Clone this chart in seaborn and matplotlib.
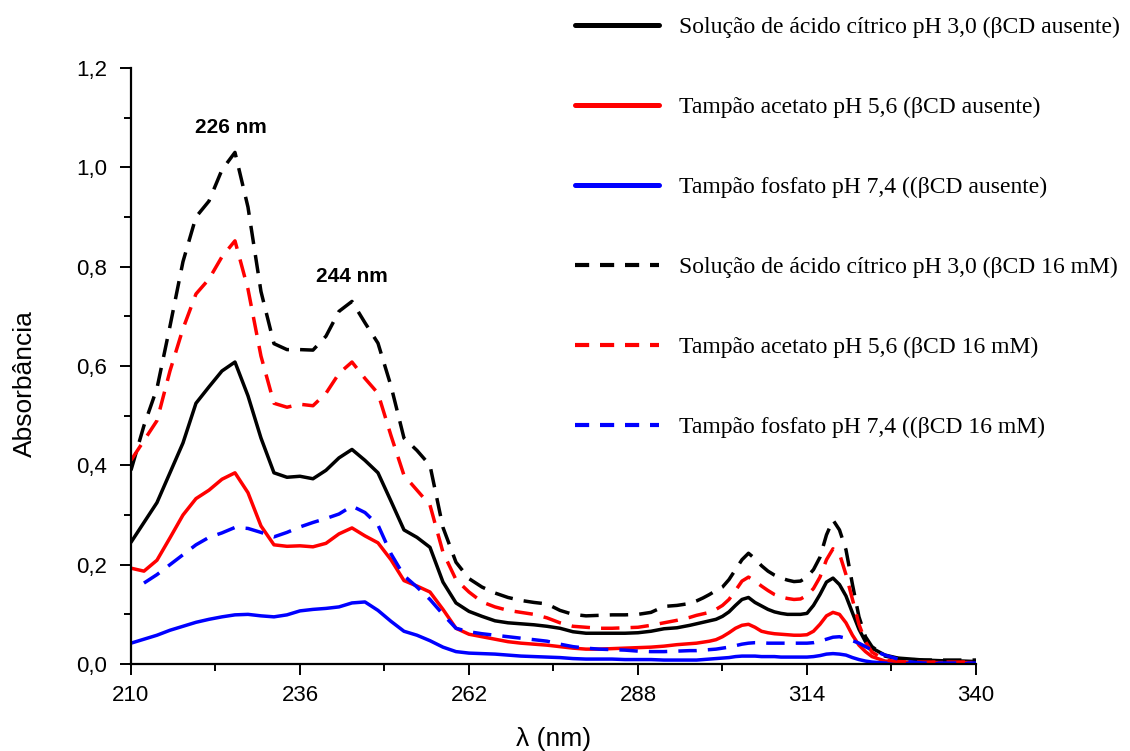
import numpy as np
import pandas as pd
import seaborn as sns
import matplotlib
matplotlib.use("Agg")
import matplotlib.pyplot as plt
from matplotlib.lines import Line2D
from matplotlib.ticker import FixedLocator, MultipleLocator, FuncFormatter

# Wavelength grid (nm): 2 nm steps, 1 nm steps across the 297-323 nm band
wavelength = [210, 212, 214, 216, 218, 220, 222, 224, 226, 228,
              230, 232, 234, 236, 238, 240, 242, 244, 246, 248,
              250, 252, 254, 256, 258, 260, 262, 264, 266, 268,
              270, 272, 274, 276, 278, 280, 282, 284, 286, 288,
              290, 292, 294, 296,
              297, 298, 299, 300, 301, 302, 303, 304, 305, 306,
              307, 308, 309, 310, 311, 312, 313, 314, 315, 316,
              317, 318, 319, 320, 321, 322, 323,
              324, 326, 328, 330, 332, 334, 336, 338, 340]

# Absorbance, no beta-cyclodextrin
citric_free = [0.245, 0.285, 0.325, 0.385, 0.445, 0.525, 0.558, 0.590, 0.608, 0.540,
               0.455, 0.385, 0.376, 0.378, 0.373, 0.390, 0.415, 0.432, 0.410, 0.385,
               0.328, 0.270, 0.255, 0.235, 0.165, 0.123, 0.106, 0.096, 0.087, 0.083,
               0.081, 0.079, 0.076, 0.072, 0.065, 0.062, 0.062, 0.062, 0.062, 0.063,
               0.066, 0.071, 0.073, 0.078,
               0.081, 0.084, 0.087, 0.090, 0.096, 0.105, 0.118, 0.130, 0.134, 0.124,
               0.117, 0.110, 0.105, 0.102, 0.100, 0.100, 0.100, 0.102, 0.118, 0.140,
               0.165, 0.173, 0.160, 0.137, 0.103, 0.070, 0.045,
               0.032, 0.018, 0.012, 0.010, 0.008, 0.007, 0.006, 0.006, 0.005]

acetate_free = [0.193, 0.187, 0.209, 0.254, 0.300, 0.333, 0.350, 0.372, 0.385, 0.345,
                0.278, 0.240, 0.237, 0.238, 0.236, 0.243, 0.262, 0.274, 0.258, 0.244,
                0.210, 0.168, 0.157, 0.145, 0.110, 0.072, 0.060, 0.055, 0.050, 0.045,
                0.042, 0.040, 0.038, 0.035, 0.032, 0.030, 0.030, 0.031, 0.032, 0.033,
                0.034, 0.036, 0.039, 0.041,
                0.042, 0.044, 0.046, 0.049, 0.055, 0.063, 0.072, 0.078, 0.080, 0.074,
                0.066, 0.063, 0.061, 0.060, 0.059, 0.058, 0.058, 0.059, 0.066, 0.080,
                0.097, 0.104, 0.100, 0.083, 0.058, 0.038, 0.025,
                0.015, 0.006, 0.004, 0.003, 0.003, 0.003, 0.003, 0.003, 0.003]

phosphate_free = [0.042, 0.050, 0.058, 0.068, 0.076, 0.084, 0.090, 0.095, 0.099, 0.100,
                  0.097, 0.095, 0.099, 0.107, 0.110, 0.112, 0.115, 0.123, 0.125, 0.108,
                  0.086, 0.066, 0.058, 0.047, 0.034, 0.025, 0.022, 0.021, 0.020, 0.018,
                  0.016, 0.015, 0.014, 0.013, 0.011, 0.010, 0.010, 0.010, 0.009, 0.009,
                  0.009, 0.008, 0.008, 0.008,
                  0.008, 0.009, 0.010, 0.011, 0.012, 0.013, 0.015, 0.016, 0.016, 0.016,
                  0.015, 0.015, 0.015, 0.014, 0.014, 0.014, 0.014, 0.014, 0.015, 0.017,
                  0.020, 0.021, 0.020, 0.018, 0.013, 0.009, 0.006,
                  0.004, 0.002, 0.001, 0.001, 0.001, 0.001, 0.001, 0.001, 0.001]

# Absorbance, beta-cyclodextrin 16 mM
citric_bcd = [0.390, 0.480, 0.555, 0.680, 0.810, 0.900, 0.932, 0.995, 1.030, 0.920,
              0.750, 0.645, 0.633, 0.633, 0.632, 0.660, 0.710, 0.730, 0.687, 0.646,
              0.560, 0.455, 0.430, 0.400, 0.275, 0.205, 0.172, 0.155, 0.143, 0.134,
              0.128, 0.124, 0.121, 0.108, 0.100, 0.097, 0.098, 0.099, 0.099, 0.100,
              0.104, 0.116, 0.118, 0.122,
              0.127, 0.133, 0.140, 0.148, 0.155, 0.170, 0.190, 0.210, 0.223, 0.212,
              0.198, 0.187, 0.179, 0.173, 0.169, 0.166, 0.167, 0.175, 0.190, 0.215,
              0.260, 0.290, 0.270, 0.230, 0.160, 0.095, 0.055,
              0.035, 0.016, 0.011, 0.009, 0.008, 0.008, 0.008, 0.008, 0.008]

acetate_bcd = [0.410, 0.450, 0.490, 0.590, 0.675, 0.745, 0.775, 0.820, 0.852, 0.755,
               0.620, 0.525, 0.517, 0.523, 0.520, 0.545, 0.585, 0.608, 0.575, 0.545,
               0.460, 0.380, 0.350, 0.320, 0.225, 0.170, 0.145, 0.125, 0.115, 0.108,
               0.104, 0.100, 0.093, 0.083, 0.076, 0.074, 0.072, 0.072, 0.073, 0.074,
               0.078, 0.083, 0.088, 0.094,
               0.098, 0.101, 0.104, 0.110, 0.118, 0.130, 0.148, 0.167, 0.175, 0.167,
               0.157, 0.148, 0.140, 0.135, 0.132, 0.130, 0.131, 0.138, 0.152, 0.175,
               0.210, 0.232, 0.222, 0.180, 0.130, 0.080, 0.045,
               0.024, 0.008, 0.005, 0.004, 0.004, 0.004, 0.004, 0.004, 0.004]

phosphate_bcd = [np.nan, 0.163, 0.180, 0.200, 0.220, 0.240, 0.255, 0.264, 0.275, 0.273,
                 0.265, 0.256, 0.265, 0.276, 0.285, 0.293, 0.302, 0.318, 0.305, 0.280,
                 0.222, 0.178, 0.155, 0.130, 0.100, 0.072, 0.065, 0.061, 0.058, 0.055,
                 0.052, 0.049, 0.046, 0.040, 0.035, 0.032, 0.030, 0.029, 0.028, 0.026,
                 0.025, 0.025, 0.026, 0.027,
                 0.027, 0.028, 0.029, 0.030, 0.032, 0.034, 0.037, 0.040, 0.042, 0.043,
                 0.043, 0.042, 0.042, 0.042, 0.042, 0.042, 0.042, 0.042, 0.043, 0.046,
                 0.050, 0.054, 0.055, 0.052, 0.047, 0.042, 0.035,
                 0.028, 0.018, 0.010, 0.004, 0.002, 0.002, 0.002, 0.002, 0.002]

labels = [
    "Solução de ácido cítrico pH 3,0 (βCD ausente)",
    "Tampão acetato pH 5,6 (βCD ausente)",
    "Tampão fosfato pH 7,4 ((βCD ausente)",
    "Solução de ácido cítrico pH 3,0 (βCD 16 mM)",
    "Tampão acetato pH 5,6 (βCD 16 mM)",
    "Tampão fosfato pH 7,4 ((βCD 16 mM)",
]
x_ticks = [210, 236, 262, 288, 314, 340]
x_minor_ticks = [223, 249, 275, 301, 327]
peak_labels = ["226 nm", "244 nm"]
peak_positions = [(225.4, 1.08), (244.0, 0.78)]

series = [citric_free, acetate_free, phosphate_free, citric_bcd, acetate_bcd, phosphate_bcd]
colors = ["#000000", "#ff0000", "#0000ff", "#000000", "#ff0000", "#0000ff"]
dashed = [False, False, False, True, True, True]

sns.set_style("ticks")
plt.rcParams["font.family"] = ["Liberation Sans", "DejaVu Sans"]
plt.rcParams["text.color"] = "black"
plt.rcParams["axes.labelcolor"] = "black"
plt.rcParams["xtick.color"] = "black"
plt.rcParams["ytick.color"] = "black"

fig = plt.figure(figsize=(11.3, 7.51), dpi=100)
ax = fig.add_axes([0.1159, 0.1158, 0.7478, 0.7937])

lw = 2.5
for vals, col, dsh, lab in zip(series, colors, dashed, labels):
    df = pd.DataFrame({"wl": wavelength, "abs": vals}).dropna()
    line_kw = dict(dashes=(5.3, 3.2)) if dsh else {}
    sns.lineplot(data=df, x="wl", y="abs", ax=ax, color=col, lw=lw,
                 label=lab, legend=False, estimator=None, sort=False, **line_kw)

ax.set_xlim(210, 340)
ax.set_ylim(0, 1.2)
ax.xaxis.set_major_locator(FixedLocator(x_ticks))
ax.xaxis.set_minor_locator(FixedLocator(x_minor_ticks))
ax.yaxis.set_major_locator(MultipleLocator(0.2))
ax.yaxis.set_minor_locator(MultipleLocator(0.1))
ax.yaxis.set_major_formatter(FuncFormatter(lambda v, p: f"{v:.1f}".replace(".", ",")))

for side in ("top", "right"):
    ax.spines[side].set_visible(False)
for side in ("left", "bottom"):
    ax.spines[side].set_linewidth(1.6)
    ax.spines[side].set_color("black")

ax.tick_params(which="major", direction="out", length=8, width=1.4, labelsize=16,
               colors="black")
ax.tick_params(which="minor", direction="out", length=5, width=1.4, colors="black")
ax.tick_params(axis="y", pad=9)
ax.tick_params(axis="x", pad=7)

ax.set_xlabel("λ (nm)", fontsize=19)
ax.set_ylabel("Absorbância", fontsize=19)
ax.xaxis.set_label_coords(0.5, -0.105)
ax.yaxis.set_label_coords(-0.111, 0.47)

for txt, (px, py) in zip(peak_labels, peak_positions):
    ax.text(px, py, txt, ha="center", va="center", fontsize=15,
            fontweight="bold", color="black")

handles = []
for col, dsh in zip(colors, dashed):
    if dsh:
        handles.append(Line2D([], [], color=col, lw=3.0, dashes=(3.4, 2.6)))
    else:
        handles.append(Line2D([], [], color=col, lw=3.6))
leg = fig.legend(handles=handles, labels=labels, loc="upper left",
                 bbox_to_anchor=(0.509, 0.978), frameon=False,
                 prop={"family": ["Liberation Serif", "DejaVu Serif"], "size": 17},
                 handlelength=3.55, handletextpad=0.85, labelspacing=2.48,
                 borderpad=0, borderaxespad=0)

fig.savefig("out.png", dpi=100)
